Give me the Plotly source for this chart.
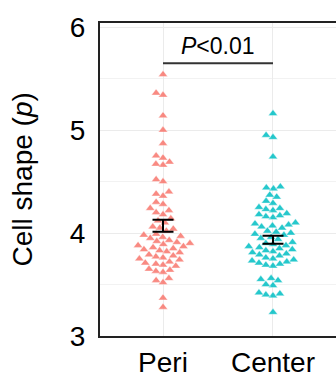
import math
import plotly.graph_objects as go

# ---------------- data ----------------
categories = ["Peri", "Center"]

peri_values = [
    5.54,
    5.34, 5.36,
    5.14,
    5.00,
    4.87,
    4.73, 4.75,
    4.66, 4.67, 4.69,
    4.50, 4.52,
    4.36, 4.38, 4.40,
    4.28, 4.30,
    4.18, 4.20, 4.22, 4.24,
    4.10, 4.12, 4.14,
    4.02, 4.04, 4.05, 4.06,
    3.95, 3.96, 3.97, 3.98, 3.99,
    3.88, 3.89, 3.90, 3.91, 3.92, 3.93,
    3.81, 3.82, 3.83, 3.84, 3.85, 3.86, 3.87,
    3.74, 3.75, 3.76, 3.77, 3.78, 3.79,
    3.68, 3.69, 3.70, 3.71, 3.72,
    3.62, 3.63, 3.64, 3.65,
    3.52, 3.54, 3.56,
    3.37,
    3.28,
]

center_values = [
    5.16,
    4.93, 4.95,
    4.74,
    4.43, 4.44, 4.45,
    4.35, 4.37,
    4.29, 4.31,
    4.22, 4.23, 4.24, 4.25,
    4.15, 4.16, 4.17, 4.18, 4.19,
    4.05, 4.06, 4.07, 4.08, 4.09, 4.10,
    3.98, 3.99, 4.00, 4.01, 4.02,
    3.94, 3.95, 3.96,
    3.85, 3.86, 3.87, 3.88, 3.89, 3.90, 3.91,
    3.78, 3.79, 3.80, 3.81, 3.82, 3.83, 3.84,
    3.72, 3.73, 3.74, 3.75, 3.76,
    3.68, 3.69, 3.70, 3.71,
    3.54, 3.55, 3.56,
    3.49, 3.50,
    3.39, 3.40, 3.41, 3.42,
    3.23,
]

means = [4.07, 3.935]
sems = [0.058, 0.038]

sig_y = 5.65
sig_label = "<i>P</i>&lt;0.01"

y_ticks = [3, 4, 5, 6]
y_title = "Cell shape (<i>p</i>)"

colors = ["#F8766D", "#00BFC4"]

# ---------------- layout constants ----------------
W, H = 336, 378
L, R, T, B = 100, 0, 23, 42
x_range = [-0.573, 1.573]
y_range = [3, 6.04]
px_per_x = (W - L - R) / (x_range[1] - x_range[0])
px_per_y = (H - T - B) / (y_range[1] - y_range[0])


def swarm_offsets(vals, d=7.2):
    """Beeswarm: place points (ascending) at the smallest |offset| that
    keeps them at least d pixels from all placed points."""
    order = sorted(range(len(vals)), key=lambda i: vals[i])
    placed = []
    offs = [0.0] * len(vals)
    for i in order:
        y = vals[i] * px_per_y
        intervals = []
        for (px, py) in placed:
            dy = abs(y - py)
            if dy < d:
                w = math.sqrt(d * d - dy * dy)
                intervals.append((px - w, px + w))
        cands = [0.0] + [a for a, b in intervals] + [b for a, b in intervals]
        cands.sort(key=lambda c: (abs(c), c))
        chosen = 0.0
        for c in cands:
            if all(not (a + 1e-9 < c < b - 1e-9) for a, b in intervals):
                chosen = c
                break
        placed.append((chosen, y))
        offs[i] = chosen / px_per_x
    return offs


fig = go.Figure()

for ci, (name, vals) in enumerate(zip(categories, [peri_values, center_values])):
    offs = swarm_offsets(vals)
    fig.add_trace(go.Scatter(
        x=[ci + o for o in offs],
        y=vals,
        mode="markers",
        marker=dict(symbol="triangle-up", size=8, color=colors[ci],
                    opacity=0.85, line=dict(width=0.4, color="white")),
        showlegend=False,
        hoverinfo="skip",
    ))

fig.add_trace(go.Scatter(
    x=[0, 1], y=means, mode="markers",
    marker=dict(size=1, color="rgba(0,0,0,0)"),
    error_y=dict(type="data", array=sems, visible=True, width=10.5,
                 thickness=2, color="black"),
    showlegend=False, hoverinfo="skip",
))

fig.add_shape(type="line", xref="x", yref="y", x0=0, x1=1, y0=sig_y, y1=sig_y,
              line=dict(color="#333333", width=2))
fig.add_annotation(x=0.5, y=sig_y, xref="x", yref="y", text=sig_label,
                   showarrow=False, yanchor="bottom", yshift=2,
                   font=dict(size=23, color="black"))

fig.add_annotation(xref="paper", yref="paper", x=(22 - L) / (W - L - R), y=0.5,
                   text=y_title, textangle=-90, showarrow=False,
                   xanchor="center", yanchor="middle",
                   font=dict(size=28, color="black"))

font_family = "Arial, 'Liberation Sans', sans-serif"

fig.update_layout(
    width=W, height=H,
    margin=dict(l=L, r=R, t=T, b=B),
    paper_bgcolor="white", plot_bgcolor="white",
    font=dict(family=font_family, color="black"),
    xaxis=dict(
        range=x_range, tickmode="array", tickvals=[0, 1], ticktext=categories,
        showgrid=True, gridcolor="#EBEBEB", gridwidth=1,
        showline=True, linecolor="#222222", linewidth=2, mirror=True,
        ticks="", tickfont=dict(size=28, color="black"), zeroline=False,
    ),
    yaxis=dict(
        range=y_range, tickmode="array", tickvals=y_ticks,
        showgrid=True, gridcolor="#EBEBEB", gridwidth=1,
        minor=dict(tickvals=[3.5, 4.5, 5.5], showgrid=True,
                   gridcolor="#F2F2F2", gridwidth=1),
        showline=True, linecolor="#222222", linewidth=2, mirror=False,
        ticks="outside", ticklen=7, tickcolor="white",
        tickfont=dict(size=28, color="black"), zeroline=False,
    ),
)

fig.write_html("out.html")
